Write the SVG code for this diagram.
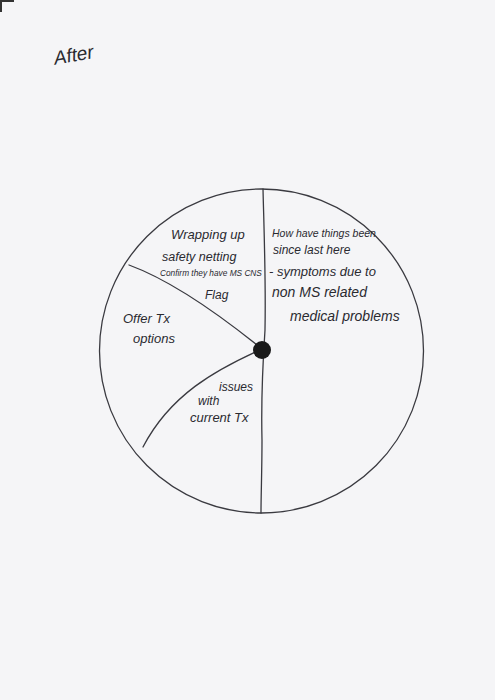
<svg xmlns="http://www.w3.org/2000/svg" width="495" height="700" viewBox="0 0 495 700">
<style>
.hw{font-family:"Liberation Sans","DejaVu Sans",sans-serif;font-style:italic;fill:#2a2a30}
.ln{fill:none;stroke:#3a3a40;stroke-width:1.3;stroke-linecap:round}
</style>
<rect x="0" y="0" width="495" height="700" fill="#f5f5f7"/>
<path d="M1,12 L1,1 L14,1" fill="none" stroke="#333" stroke-width="2"/>
<g id="title"><text class="hw" x="53" y="62" style="font-size:19px" transform="rotate(-10 70 52)">After</text></g>
<g id="pie">
<circle cx="261.5" cy="351" r="162" class="ln" stroke-width="1.2"/>
</g>
<g id="connectors">
<path class="ln" d="M263,189 C264,230 266,280 265,330 C263,360 261,400 262,440 C262,470 261,495 261,513"/>
<path class="ln" d="M129,265 C170,280 220,315 262,349"/>
<path class="ln" d="M262,349 C215,370 170,395 143,447"/>
<circle id="hub" cx="262" cy="350" r="9" fill="#1a1a1a"/>
</g>
<g id="wrapping">
<text class="hw" x="171" y="239" style="font-size:13px">Wrapping up</text>
<text class="hw" x="162" y="261" style="font-size:12.5px">safety netting</text>
<text class="hw" x="160" y="276" style="font-size:8.3px">Confirm they have MS CNS</text>
<text class="hw" x="205" y="299" style="font-size:12px">Flag</text>
</g>
<g id="how">
<text class="hw" x="272" y="237" style="font-size:10.5px">How have things been</text>
<text class="hw" x="273" y="254" style="font-size:12px">since last here</text>
<text class="hw" x="269" y="276" style="font-size:13px">- symptoms due to</text>
<text class="hw" x="272" y="297" style="font-size:14px">non MS related</text>
<text class="hw" x="290" y="321" style="font-size:14px">medical problems</text>
</g>
<g id="offer">
<text class="hw" x="123" y="323" style="font-size:13px">Offer Tx</text>
<text class="hw" x="133" y="343" style="font-size:13px">options</text>
</g>
<g id="issues">
<text class="hw" x="219" y="391" style="font-size:12px">issues</text>
<text class="hw" x="198" y="405" style="font-size:12px">with</text>
<text class="hw" x="190" y="422" style="font-size:13px">current Tx</text>
</g>
</svg>
